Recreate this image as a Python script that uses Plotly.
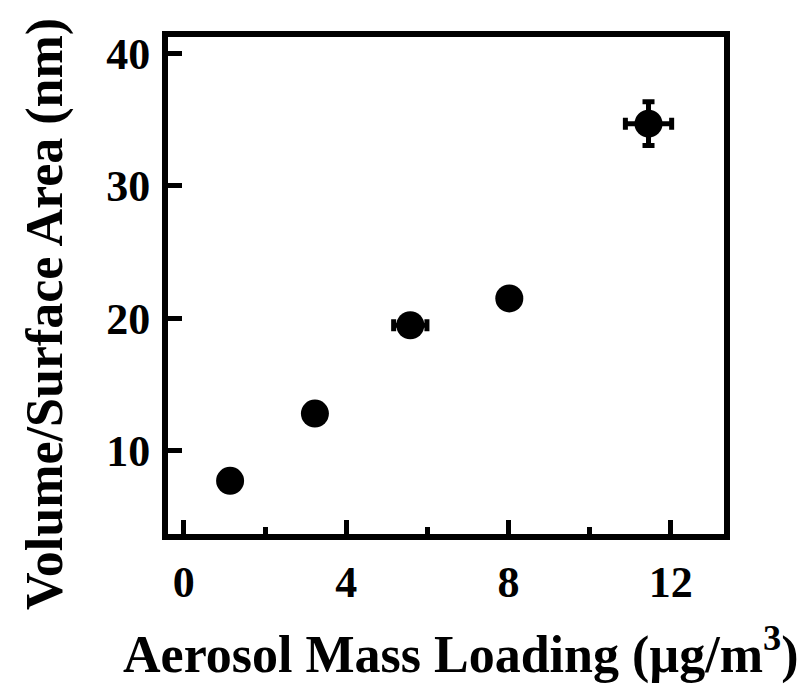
import plotly.graph_objects as go

# Aerosol mass loading (µg/m³) vs. volume-to-surface-area ratio (nm)
mass_loading = [1.14, 3.23, 5.58, 8.02, 11.45]
vol_surf = [7.72, 12.8, 19.47, 21.5, 34.7]
mass_err = [0.0, 0.0, 0.41, 0.0, 0.57]
vol_err = [0.0, 0.0, 0.0, 0.0, 1.65]

x_ticks = [0, 4, 8, 12]
y_ticks = [10, 20, 30, 40]

x_title = "<b>Aerosol Mass Loading (µg/m<sup>3</sup>)</b>"
y_title = "<b>Volume/Surface Area (nm)</b>"

FONT = "Liberation Serif"
INK = "black"

fig = go.Figure()
fig.add_trace(go.Scatter(
    x=mass_loading, y=vol_surf, mode="markers",
    marker=dict(size=28, color=INK),
    error_x=dict(type="data", array=mass_err, visible=True,
                 color=INK, thickness=5, width=6),
    error_y=dict(type="data", array=vol_err, visible=True,
                 color=INK, thickness=5, width=6),
    showlegend=False,
))

axis_common = dict(
    showline=True, linecolor=INK, linewidth=6, mirror=True,
    showgrid=False, zeroline=False,
    ticks="inside", tickcolor=INK, tickwidth=5, ticklen=14,
    tickfont=dict(family=FONT, size=44, color=INK),
)

fig.update_xaxes(
    range=[-0.39, 13.31], tickvals=x_ticks,
    ticktext=[f"<b>{v}</b>" for v in x_ticks],
    minor=dict(dtick=2, tick0=0, ticks="inside", ticklen=7,
               tickwidth=5, tickcolor=INK),
    ticklabelstandoff=4,
    **axis_common,
)
fig.update_yaxes(
    range=[3.70, 41.25], tickvals=y_ticks,
    ticktext=[f"<b>{v}</b>" for v in y_ticks],
    ticklabelstandoff=3,
    **axis_common,
)

# Axis titles placed as paper-anchored annotations
title_font = dict(family=FONT, size=52, color=INK)
fig.add_annotation(
    text=x_title, xref="paper", yref="paper",
    x=(461 - 168) / (806 - 168 - 82), y=-(651 - 534) / (534 - 37),
    xanchor="center", yanchor="middle", showarrow=False, font=title_font,
)
fig.add_annotation(
    text=y_title, xref="paper", yref="paper", textangle=-90,
    x=-(168 - 45) / (806 - 168 - 82), y=(534 - 314) / (534 - 37),
    xanchor="center", yanchor="middle", showarrow=False, font=title_font,
)

fig.update_layout(
    width=806, height=687,
    margin=dict(l=168, r=82, t=37, b=153),
    plot_bgcolor="white", paper_bgcolor="white",
)

fig.write_html("out.html")
